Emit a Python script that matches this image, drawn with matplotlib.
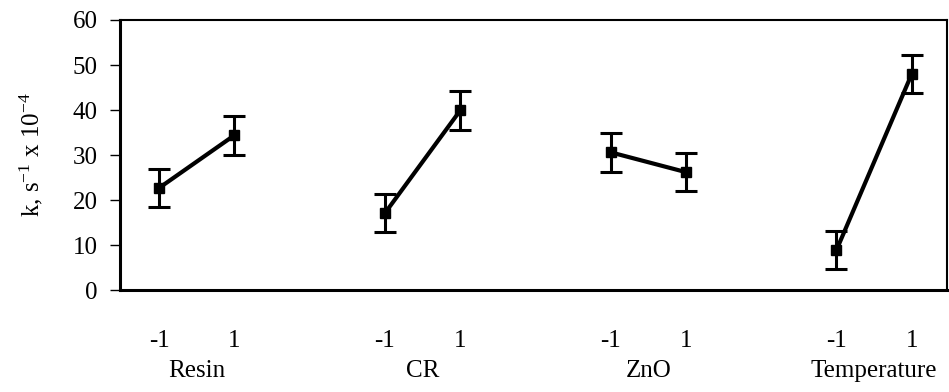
import matplotlib
matplotlib.use("Agg")
import matplotlib.pyplot as plt
import matplotlib.transforms as mtransforms
import numpy as np

plt.rcParams['font.family'] = ['Liberation Serif', 'DejaVu Serif']
plt.rcParams['mathtext.fontset'] = 'custom'
plt.rcParams['mathtext.rm'] = 'Liberation Serif'
plt.rcParams['mathtext.it'] = 'Liberation Serif:italic'

# factors and levels
factors = ["Resin", "CR", "ZnO", "Temperature"]
levels = ["-1", "1"]

# rate constant k (s^-1 x 10^-4) at low / high level
k_low = [22.7, 17.1, 30.6, 8.9]
k_high = [34.4, 39.9, 26.2, 48.0]
k_err = [4.3, 4.3, 4.3, 4.3]

fig = plt.figure(figsize=(9.49, 3.92), dpi=100)
ax = fig.add_axes([0.1265, 0.26, 0.8715, 0.689])

positions = []
ticklabels = []
for i, name in enumerate(factors):
    x = np.array([3 * i, 3 * i + 1])
    y = [k_low[i], k_high[i]]
    ax.errorbar(x, y, yerr=k_err[i], color='black', lw=3.0, marker='s',
                ms=7, elinewidth=2.2, capsize=8, capthick=2.2)
    positions.extend(x)
    ticklabels.extend(levels)

ax.set_xlim(-0.52, 10.47)
ax.set_ylim(0, 60)
ax.set_yticks(range(0, 61, 10))
ax.set_xticks(positions)
ax.set_xticklabels(ticklabels, fontsize=18)
ax.tick_params(axis='x', length=0, pad=29)
ax.tick_params(axis='y', direction='out', length=7, width=1, pad=9, labelsize=18)

trans = mtransforms.blended_transform_factory(ax.transData, ax.transAxes)
for i, name in enumerate(factors):
    ax.text(3 * i + 0.5, -0.30, name, transform=trans, ha='center', va='center', fontsize=18)

ax.set_ylabel('k, s$^{-1}$ x 10$^{-4}$', fontsize=18, labelpad=20)

for side in ['left', 'bottom']:
    ax.spines[side].set_linewidth(2.2)
for side in ['top', 'right']:
    ax.spines[side].set_linewidth(1.5)

fig.savefig("out.png", dpi=100)
